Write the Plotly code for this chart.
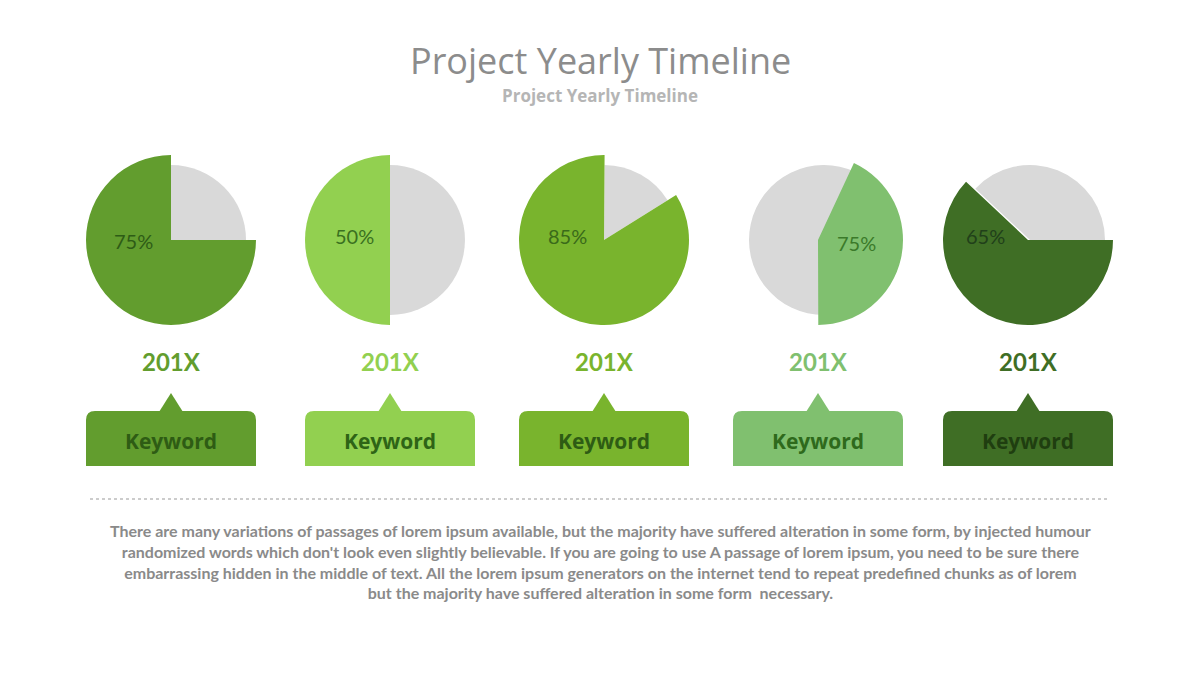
import plotly.graph_objects as go

# ---- data ----
years = ["201X", "201X", "201X", "201X", "201X"]
keywords = ["Keyword", "Keyword", "Keyword", "Keyword", "Keyword"]
pct_labels = ["75%", "50%", "85%", "75%", "65%"]
shares = [75, 50, 84, 43, 62]          # colored share as drawn
colors = ["#629d2e", "#92d050", "#79b42d", "#80c06f", "#3f6e25"]
label_colors = ["#2e5c16", "#3a7020", "#3a6a1a", "#3b7a2a", "#21401a"]
kw_text_colors = ["#2e5c14", "#2e6416", "#2e5c14", "#2e6a1c", "#1f3e10"]
rotations = [90, 180, 58, 25, 90]
title = "Project Yearly Timeline"
subtitle = "Project Yearly Timeline"
paragraph = ("There are many variations of passages of lorem ipsum available, but the majority have suffered alteration in some form, by injected humour<br>"
             "randomized words which don't look even slightly believable. If you are going to use A passage of lorem ipsum, you need to be sure there<br>"
             "embarrassing hidden in the middle of text. All the lorem ipsum generators on the internet tend to repeat predefined chunks as of lorem<br>"
             "but the majority have suffered alteration in some form  necessary.")

# ---- layout geometry (page pixels) ----
W, H = 1200, 675
OFF = 8  # page body margin
centers_x = [171, 390, 604, 818, 1028]
gray_dx = [0, 0, 0, 6, 2]
cy = 240
R_big, R_small = 85, 75
label_pos = [(133, 241), (354, 236), (567, 236), (856, 243), (985, 236)]
GRAY = "#d9d9d9"
T = "rgba(0,0,0,0)"

def dom(cx, cyy, r):
    return dict(x=[(cx - OFF - r) / W, (cx - OFF + r) / W],
                y=[1 - (cyy - OFF + r) / H, 1 - (cyy - OFF - r) / H])

fig = go.Figure()

for i in range(5):
    vals = [shares[i], 100 - shares[i]]
    common = dict(values=vals, sort=False, direction="clockwise", rotation=rotations[i],
                  textinfo="none", hoverinfo="skip", showlegend=False)
    fig.add_trace(go.Pie(domain=dom(centers_x[i] + gray_dx[i], cy, R_small),
                         marker=dict(colors=[T, GRAY], line=dict(width=0)), **common))
    fig.add_trace(go.Pie(domain=dom(centers_x[i], cy, R_big),
                         marker=dict(colors=[colors[i], T], line=dict(width=0)), **common))

# invisible pixel axes
fig.add_trace(go.Scatter(x=[OFF, W + OFF], y=[OFF, H + OFF], mode="markers", marker=dict(opacity=0),
                         hoverinfo="skip", showlegend=False))

shapes = []
annotations = []
bw, btop, bbot, rr = 170, 411, 466, 9
for i in range(5):
    cx = centers_x[i]
    x0, x1 = cx - bw / 2, cx + bw / 2
    path = (f"M {x0},{bbot} L {x0},{btop + rr} Q {x0},{btop} {x0 + rr},{btop} "
            f"L {x1 - rr},{btop} Q {x1},{btop} {x1},{btop + rr} L {x1},{bbot} Z")
    shapes.append(dict(type="path", path=path, xref="x", yref="y",
                       fillcolor=colors[i], line=dict(width=0), layer="below"))
    tri = f"M {cx - 12},{btop + 1} L {cx},{393} L {cx + 12},{btop + 1} Z"
    shapes.append(dict(type="path", path=tri, xref="x", yref="y",
                       fillcolor=colors[i], line=dict(width=0), layer="below"))
    annotations.append(dict(x=cx, y=361, xref="x", yref="y", text=f"<b>{years[i]}</b>",
                            showarrow=False, font=dict(family="Lato", size=24, color=colors[i])))
    annotations.append(dict(x=cx, y=441, xref="x", yref="y", text=f"<b>{keywords[i]}</b>",
                            showarrow=False, font=dict(family="Open Sans", size=21, color=kw_text_colors[i])))
    lx, ly = label_pos[i]
    annotations.append(dict(x=lx, y=ly, xref="x", yref="y", text=pct_labels[i],
                            showarrow=False, font=dict(family="Lato", size=20, color=label_colors[i])))

shapes.append(dict(type="line", x0=90, x1=1108, y0=499, y1=499, xref="x", yref="y",
                   line=dict(color="#9a9a9a", width=1.2, dash="dot")))

annotations.append(dict(x=600, y=60, xref="x", yref="y", text=title, showarrow=False,
                        font=dict(family="Open Sans", size=36, color="#8c8c8c")))
annotations.append(dict(x=600, y=95, xref="x", yref="y", text=f"<b>{subtitle}</b>", showarrow=False,
                        font=dict(family="Open Sans", size=17, color="#b5b5b5")))
annotations.append(dict(x=600, y=561, xref="x", yref="y", text=f"<b>{paragraph}</b>", showarrow=False,
                        align="center", font=dict(family="Lato", size=16, color="#8a8a8a")))

fig.update_layout(
    width=W, height=H, margin=dict(l=0, r=0, t=0, b=0),
    paper_bgcolor="white", plot_bgcolor="white",
    xaxis=dict(range=[OFF, W + OFF], visible=False, fixedrange=True, domain=[0, 1]),
    yaxis=dict(range=[H + OFF, OFF], visible=False, fixedrange=True, domain=[0, 1]),
    shapes=shapes, annotations=annotations,
)

fig.write_html("out.html")
